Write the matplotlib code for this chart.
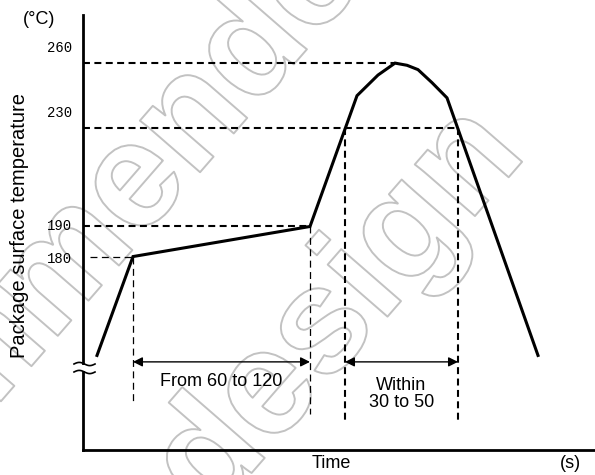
import numpy as np
import matplotlib
matplotlib.use("Agg")
import matplotlib.pyplot as plt
import matplotlib.patheffects as pe

plt.rcParams['font.family'] = ['Liberation Sans', 'DejaVu Sans']
plt.rcParams['lines.scale_dashes'] = False

# reflow profile (schematic), time in s, temperature in degC
profile_time = [7, 25, 113.5, 137, 147.5, 156, 162, 167.5, 174.5, 182, 227.5]
profile_temp = [88, 180, 190, 245, 254.5, 260, 259, 257, 251, 244, 88]

tick_temps = [260, 230, 190, 180]
tick_labels = ["260", "230", "190", "180"]

preheat_start, preheat_end = 25, 113.5     # 180 -> 190 soak
peak_start, peak_end = 131, 187.5          # above 230
peak_time = 157.5

# schematic (non linear) temperature axis
knot_temp = [0, 180, 190, 230, 260, 300]
knot_h = [0, 193, 223, 321, 386, 472.7]

def fwd(t):
    return np.interp(t, knot_temp, knot_h)

def inv(h):
    return np.interp(h, knot_h, knot_temp)

W, H = 595, 475
fig = plt.figure(figsize=(W / 100, H / 100), dpi=100)
ax = fig.add_axes([83 / W, (H - 450) / H, (W - 83) / W, 435 / H])
ax.set_facecolor('none')
ax.set_yscale('function', functions=(fwd, inv))
ax.set_xlim(0, 256)
ax.set_ylim(0, inv(434))
ax.set_xticks([])
ax.set_yticks([])
for s in ['top', 'right']:
    ax.spines[s].set_visible(False)
for s in ['left', 'bottom']:
    ax.spines[s].set_linewidth(2)

def px(x, y):
    return x / W, 1 - y / H

# watermark
wm = dict(fontsize=108, fontweight='bold', color='white', rotation=49,
          rotation_mode='anchor', ha='right', va='baseline', zorder=-1,
          path_effects=[pe.Stroke(linewidth=1.4, foreground='#c2c2c2')])
fig.text(*px(428, -90), "Not recommended", **wm)
fig.text(*px(528, 155), "for new design", **wm)

# profile curve
ax.plot(profile_time, profile_temp, color='black', lw=2.2, solid_joinstyle='miter')

thick = dict(color='black', lw=1.5, dashes=(5, 3.2))
thin = dict(color='black', lw=0.9, dashes=(5, 3.2))
ax.plot([0, peak_time], [260, 260], **thick)
ax.plot([0, peak_end], [230, 230], **thick)
ax.plot([0, preheat_end], [190, 190], **thick)
ax.plot([3.5, preheat_start], [180, 180], **thin)
ax.plot([preheat_start, preheat_start], [180, 45.7], **thin)
ax.plot([preheat_end, preheat_end], [190, 33.6], **thin)
ax.plot([peak_start, peak_start], [230, 27], **thick)
ax.plot([peak_end, peak_end], [230, 27], **thick)

arrow = dict(arrowstyle='<|-|>', color='black', lw=1, mutation_scale=14,
             shrinkA=0, shrinkB=0)
ax.annotate('', xy=(preheat_end, 82), xytext=(preheat_start, 82), arrowprops=arrow)
ax.annotate('', xy=(peak_end, 82), xytext=(peak_start, 82), arrowprops=arrow)

ax.text((preheat_start + preheat_end) / 2, 64, "From 60 to 120",
        ha='center', va='center', fontsize=13)
ax.text((peak_start + peak_end) / 2, 52, "Within\n30 to 50",
        ha='center', va='center', fontsize=13, linespacing=1.05)

# tick labels
offsets = [11, 11, 0, -2]
for t, lab, dy in zip(tick_temps, tick_labels, offsets):
    ax.annotate(lab, xy=(0, t), xycoords=('axes fraction', 'data'),
                xytext=(-17, dy), textcoords='offset points',
                ha='center', va='center', fontsize=10, family='Liberation Mono')

# axis break on y axis
xs = np.linspace(74, 95, 30)
fig.patches.append(plt.Rectangle(px(79, 371), 8 / W, 6 / H, transform=fig.transFigure,
                                 facecolor='white', edgecolor='none', zorder=5))
y1 = 364 - 1.6 * np.sin((xs - 74) / 21 * 2 * np.pi)
y2 = 372 - 1.6 * np.sin((xs - 74) / 21 * 2 * np.pi)
for yy in (y1, y2):
    fx, fy = px(xs, yy)
    fig.add_artist(plt.Line2D(fx, fy, color='black', lw=1.2, zorder=6))

fig.text(*px(39, 20), "(°C)", ha='center', va='center', fontsize=13)
fig.text(*px(20, 226), "Package surface temperature", ha='center', va='center',
         rotation=90, fontsize=14.5)
fig.text(*px(331, 464), "Time", ha='center', va='center', fontsize=13)
fig.text(*px(570, 464), "(s)", ha='center', va='center', fontsize=13)

fig.savefig("out.png", dpi=100)
